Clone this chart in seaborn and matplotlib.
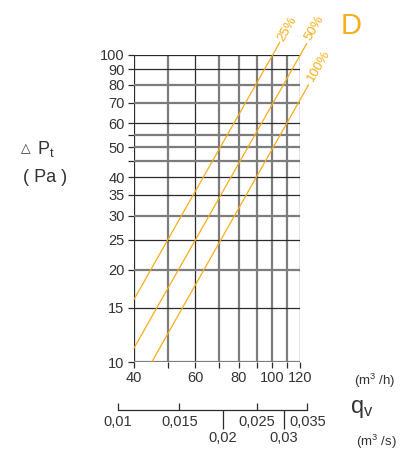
import numpy as np
import pandas as pd
import matplotlib
matplotlib.use("Agg")
import matplotlib.pyplot as plt
from matplotlib.ticker import NullLocator
import seaborn as sns

# Kurvenendpunkte (log-log Geraden)
curve_names = ["25%", "50%", "100%"]
q_25 = [40, 105]
dp_25 = [16.0, 110.0]
q_50 = [40, 125.5]
dp_50 = [11.1, 109.0]
q_100 = [45, 127]
dp_100 = [10.0, 80.0]

# Achsen
x_grid = [40, 50, 60, 70, 80, 90, 100, 110, 120]
x_labels = ["40", "", "60", "", "80", "", "100", "", "120"]
x_dark = [40, 60, 120]
y_grid = [10, 15, 20, 25, 30, 35, 40, 45, 50, 55, 60, 70, 80, 90, 100]
y_labels = ["10", "15", "20", "25", "30", "35", "40", "", "50", "", "60", "70", "80", "90", "100"]
y_dark = [15, 25, 35, 40, 60, 90, 100]

# zweite Achse in m3/s
qs_major = [0.01, 0.015, 0.025, 0.035]
qs_major_labels = ["0,01", "0,015", "0,025", "0,035"]
qs_minor = [0.02, 0.03]
qs_minor_labels = ["0,02", "0,03"]

orange = "#F6AE1A"
dark = "#2b2b2b"
gray = "#7d7d7d"
text_col = "#333333"

df = pd.DataFrame({
    "q": q_25 + q_50 + q_100,
    "dp": dp_25 + dp_50 + dp_100,
    "curve": ["25%"] * 2 + ["50%"] * 2 + ["100%"] * 2,
})

sns.set_style("white")
plt.rcParams["font.family"] = ["Liberation Sans", "DejaVu Sans"]
plt.rcParams["mathtext.fontset"] = "custom"
plt.rcParams["mathtext.rm"] = "Liberation Sans"
plt.rcParams["mathtext.it"] = "Liberation Sans:italic"

W, H = 406, 454
fig = plt.figure(figsize=(W / 100, H / 100), dpi=100)

# Hauptdiagramm: 134..300 px horizontal, 55..362 px vertikal
left, right, top, bottom = 134, 300, 55, 362
ax = fig.add_axes([left / W, 1 - bottom / H, (right - left) / W, (bottom - top) / H])
ax.set_xscale("log")
ax.set_yscale("log")
ax.set_xlim(40, 120)
ax.set_ylim(10, 100)

for x in x_grid:
    if x in x_dark:
        ax.axvline(x, color=dark, lw=0.9, zorder=1)
    else:
        ax.axvline(x, color=gray, lw=1.6, zorder=1)
for y in y_grid:
    if y in y_dark:
        ax.axhline(y, color=dark, lw=0.9, zorder=1)
    else:
        ax.axhline(y, color=gray, lw=1.6, zorder=1)

sns.lineplot(data=df, x="q", y="dp", hue="curve", palette=[orange] * 3,
             legend=False, ax=ax, estimator=None, sort=False,
             lw=0.9, clip_on=False, zorder=3)

for s in ax.spines.values():
    s.set_visible(False)
ax.set_xticks(x_grid, x_labels)
ax.set_yticks(y_grid, y_labels)
ax.xaxis.set_minor_locator(NullLocator())
ax.yaxis.set_minor_locator(NullLocator())
ax.tick_params(axis="both", direction="out", length=4.3, width=0.9, color=dark,
               labelsize=10.5, labelcolor=text_col, pad=2.5,
               bottom=True, left=True)
ax.set_xlabel("")
ax.set_ylabel("")

# Beschriftungen der Kurven
fig.text(287 / W, 1 - 29 / H, "25%", color=orange, fontsize=9.5, rotation=60,
         ha="center", va="center")
fig.text(314 / W, 1 - 27.5 / H, "50%", color=orange, fontsize=9.5, rotation=60,
         ha="center", va="center")
fig.text(318.5 / W, 1 - 66 / H, "100%", color=orange, fontsize=9.5, rotation=60,
         ha="center", va="center")
fig.text(351 / W, 1 - 25.5 / H, "D", color=orange, fontsize=21,
         ha="center", va="center")

# Achsentitel
fig.text(26 / W, 1 - 149 / H, "△", family="DejaVu Sans", color=text_col,
         fontsize=9, ha="center", va="center")
fig.text(37 / W, 1 - 149 / H, r"$\mathrm{P_t}$", color=text_col,
         fontsize=13, ha="left", va="center")
fig.text(45 / W, 1 - 178 / H, "( Pa )", color=text_col, fontsize=13,
         ha="center", va="center")
fig.text(375 / W, 1 - 381 / H, r"(m$^3$ /h)", color=text_col, fontsize=9.5,
         ha="center", va="center")
fig.text(362 / W, 1 - 409 / H, r"$\mathrm{q_v}$", color=text_col, fontsize=17,
         ha="center", va="center")
fig.text(376 / W, 1 - 442 / H, r"(m$^3$ /s)", color=text_col, fontsize=9.5,
         ha="center", va="center")

# zweite Achse (m3/s), gleiche log-Skala wie oben (1 m3/s = 3600 m3/h)
px_dec = (right - left) / np.log10(120 / 40)
l2 = left + px_dec * np.log10(qs_major[0] * 3600 / 40)
r2 = left + px_dec * np.log10(qs_major[-1] * 3600 / 40)
y2 = 410
ax2 = fig.add_axes([l2 / W, 1 - y2 / H, (r2 - l2) / W, 0.01])
ax2.set_xscale("log")
ax2.set_xlim(qs_major[0], qs_major[-1])
ax2.patch.set_alpha(0)
for k in ["top", "left", "right"]:
    ax2.spines[k].set_visible(False)
ax2.spines["bottom"].set_color(dark)
ax2.spines["bottom"].set_linewidth(0.9)
ax2.set_yticks([])
ax2.set_xticks(qs_major, qs_major_labels)
ax2.set_xticks(qs_minor, qs_minor_labels, minor=True)
ax2.tick_params(axis="x", which="major", direction="in", length=5, width=0.9,
                color=dark, labelsize=10.5, labelcolor=text_col, pad=3.5,
                bottom=True)
ax2.tick_params(axis="x", which="minor", direction="out", length=14, width=0.9,
                color=dark, labelsize=10.5, labelcolor=text_col, pad=1,
                bottom=True)

fig.savefig("out.png", dpi=100)
